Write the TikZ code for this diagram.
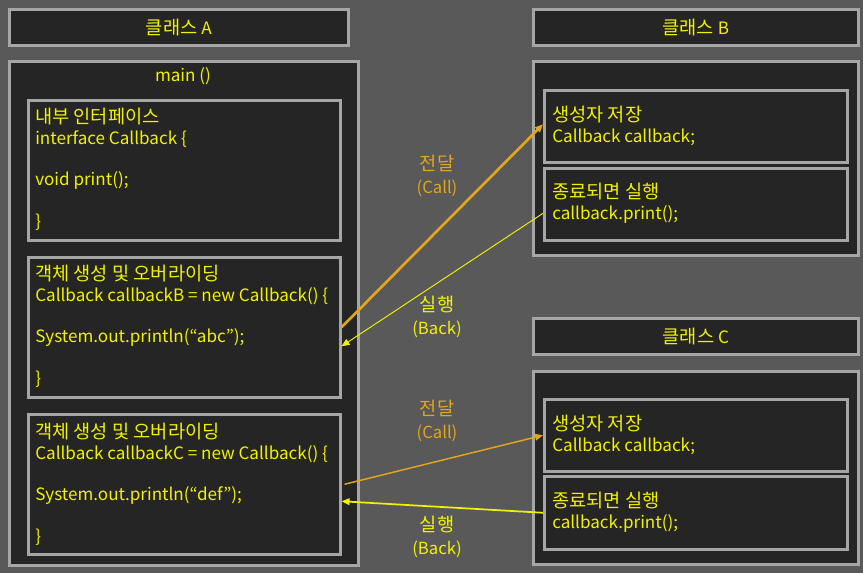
\documentclass[tikz,border=0pt]{standalone}
\usepackage{fontspec}
\setmainfont{Noto Sans CJK KR}
\usetikzlibrary{arrows.meta}
\definecolor{bgc}{HTML}{595959}
\definecolor{boxfill}{HTML}{252525}
\definecolor{boxline}{HTML}{A6A6A6}
\definecolor{txt}{HTML}{F2F200}
\definecolor{callc}{HTML}{E2A51C}
\newcommand{\kr}{\fontsize{14pt}{15.6pt}\selectfont}
\newcommand{\lt}{\fontsize{12.8pt}{15.6pt}\selectfont}
\begin{document}
\begin{tikzpicture}[x=0.75pt,y=-0.75pt,
  box/.style={draw=boxline, fill=boxfill, line width=1.9pt, inner sep=0pt, anchor=north west,
    text=txt, font=\lt},
  codetext/.style={anchor=base west, inner sep=0pt, align=left, text=txt, font=\lt},
  lbl/.style={align=center, inner sep=0pt, font=\fontsize{12.5pt}{17.25pt}\selectfont},
  callarrow/.style={draw=callc, -{Triangle[length=6pt,width=5pt]}},
  backarrow/.style={draw=txt, -{Triangle[length=6pt,width=5pt]}}]
\fill[bgc] (0,0) rectangle (863,573);
\useasboundingbox (0,0) rectangle (863,573);
\newcommand{\pxbox}[6]{\node[box, minimum width=#3*0.75pt, minimum height=#4*0.75pt] (#5) at (#1,#2) {#6};}
% class A
\pxbox{8}{8}{339}{36}{titleA}{{\kr 클래스} A}
\pxbox{8}{60}{349}{504}{mainA}{}
\node[text=txt, font=\lt, inner sep=0pt] (mainlbl) at (183,76) {main ()};
\pxbox{27}{99}{312}{140}{iface}{}
\pxbox{27}{256}{312}{140}{objB}{}
\pxbox{27}{413}{312}{140}{objC}{}
\node[codetext] (ifacetxt) at (35,227.5) {{\kr 내부 인터페이스}\\interface Callback \{\\\mbox{}\\void print();\\\mbox{}\\\}};
\node[codetext] (objBtxt) at (35,384.5) {{\kr 객체 생성 및 오버라이딩}\\Callback callbackB = new Callback() \{\\\mbox{}\\System.out.println(“abc”);\\\mbox{}\\\}};
\node[codetext] (objCtxt) at (35,542.5) {{\kr 객체 생성 및 오버라이딩}\\Callback callbackC = new Callback() \{\\\mbox{}\\System.out.println(“def”);\\\mbox{}\\\}};
% class B
\pxbox{532}{8}{325}{36}{titleB}{{\kr 클래스} B}
\pxbox{532}{60}{325}{194}{outerB}{}
\pxbox{543}{89}{303}{72}{Bin1}{}
\pxbox{543}{167}{303}{72}{Bin2}{}
\node[codetext] (Bin1txt) at (552,142.5) {{\kr 생성자 저장}\\Callback callback;};
\node[codetext] (Bin2txt) at (552,219.5) {{\kr 종료되면 실행}\\callback.print();};
% class C
\pxbox{532}{317}{325}{36}{titleC}{{\kr 클래스} C}
\pxbox{532}{370}{325}{193}{outerC}{}
\pxbox{543}{398}{303}{72}{Cin1}{}
\pxbox{543}{475}{303}{73}{Cin2}{}
\node[codetext] (Cin1txt) at (552,451.5) {{\kr 생성자 저장}\\Callback callback;};
\node[codetext] (Cin2txt) at (552,528.5) {{\kr 종료되면 실행}\\callback.print();};
% labels
\node[lbl, text=callc] (callB) at (437,176) {{\kr 전달}\\(Call)};
\node[lbl, text=txt] (backB) at (437,317) {{\kr 실행}\\(Back)};
\node[lbl, text=callc] (callC) at (437,421) {{\kr 전달}\\(Call)};
\node[lbl, text=txt] (backC) at (437,537) {{\kr 실행}\\(Back)};
% arrows
\draw[callarrow, line width=2pt] (objB.east) -- ([yshift=1.5pt]Bin1.west);
\draw[backarrow, line width=0.7pt] ([yshift=-6.75pt]Bin2.west) -- ([yshift=-14.25pt]objB.east);
\draw[callarrow, line width=1.1pt] ([xshift=2.25pt]objC.east) -- (Cin1.west);
\draw[backarrow, line width=1.3pt] (Cin2.west) -- ([yshift=-12.75pt]objC.east);
\end{tikzpicture}
\end{document}
